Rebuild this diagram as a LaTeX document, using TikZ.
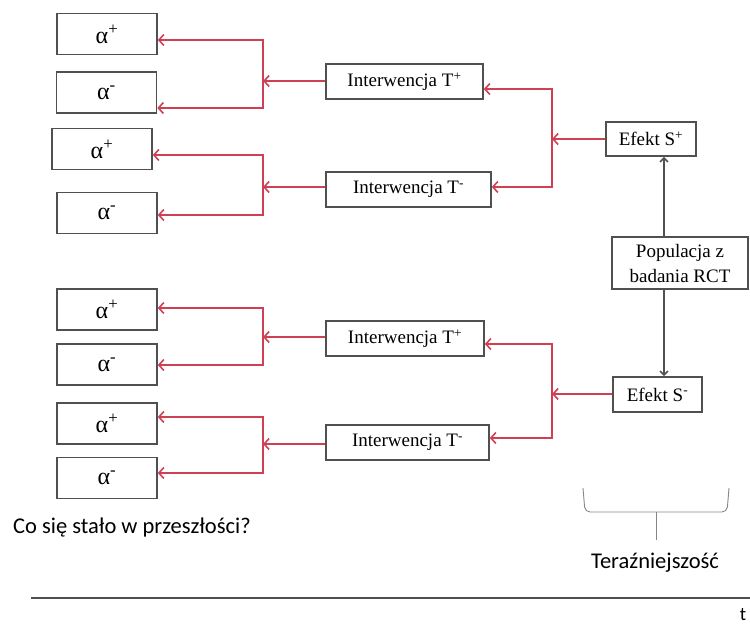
\documentclass[tikz,border=0pt]{standalone}
\usepackage{fontspec}
\setmainfont{Liberation Serif}
\newfontfamily\calibrifont{Carlito}
\usetikzlibrary{arrows.meta}
\definecolor{rline}{RGB}{208,64,84}
\definecolor{gline}{RGB}{80,80,80}

\begin{document}
\begin{tikzpicture}[x=1pt,y=-1pt]
    \tikzstyle{every node}+=[inner sep=0pt, font=\fontsize{19}{25}\selectfont]
    \tikzstyle{abox}=[draw=gline, line width=1.6pt, minimum width=100pt, minimum height=41pt, font=\fontsize{24}{26}\selectfont]
    \tikzstyle{ibox}=[draw=gline, line width=1.6pt, minimum height=35pt]
    \tikzstyle{rarr}=[rline, line width=1.6pt, arrows={Straight Barb[length=5pt,width=11pt]-Straight Barb[length=5pt,width=11pt]}]
    \tikzstyle{rone}=[rline, line width=1.6pt, -{Straight Barb[length=5pt,width=11pt]}]
    \tikzstyle{garr}=[gline, line width=1.6pt, -{Straight Barb[length=4pt,width=8pt]}]
    \useasboundingbox (0,0) rectangle (750,624);
    \node [abox] (a1) at (107,34) {α\textsuperscript{+}};
    \node [abox] (a2) at (106.5,92.5) {α\textsuperscript{-}};
    \node [abox] (a3) at (102,149) {α\textsuperscript{+}};
    \node [abox] (a4) at (107,213) {α\textsuperscript{-}};
    \node [abox] (a5) at (107,309.5) {α\textsuperscript{+}};
    \node [abox] (a6) at (107,364.5) {α\textsuperscript{-}};
    \node [abox] (a7) at (107,423.5) {α\textsuperscript{+}};
    \node [abox] (a8) at (107,478) {α\textsuperscript{-}};
    \node [ibox, minimum width=157pt] (i1) at (404.5,81.5) {Interwencja T\textsuperscript{+}};
    \node [ibox, minimum width=165pt] (i2) at (408.5,189.5) {Interwencja T\textsuperscript{-}};
    \node [ibox, minimum width=158pt] (i3) at (405,338.5) {Interwencja T\textsuperscript{+}};
    \node [ibox, minimum width=163pt] (i4) at (407.5,442.5) {Interwencja T\textsuperscript{-}};
    \node [ibox, minimum width=90pt, minimum height=34pt] (es1) at (651,139) {Efekt S\textsuperscript{+}};
    \node [ibox, minimum width=89pt] (es2) at (657.5,394.5) {Efekt S\textsuperscript{-}};
    \node [ibox, minimum width=136pt, minimum height=52pt, align=center] (pop) at (680,263) {Populacja z\\badania RCT};
    \coordinate (b1t) at (263,40);  \coordinate (b1b) at (263,108);
    \coordinate (b2t) at (263,155); \coordinate (b2b) at (263,215);
    \coordinate (b3t) at (263,308); \coordinate (b3b) at (263,365);
    \coordinate (b4t) at (263,417); \coordinate (b4b) at (263,473);
    \coordinate (r1t) at (552,89);  \coordinate (r1b) at (552,187);
    \coordinate (r2t) at (552,344); \coordinate (r2b) at (552,438);
    \draw [rarr] (a1.east |- b1t) -- (b1t) -- (b1b) -- (a2.east |- b1b);
    \draw [rarr] (a3.east |- b2t) -- (b2t) -- (b2b) -- (a4.east |- b2b);
    \draw [rarr] (a5.east |- b3t) -- (b3t) -- (b3b) -- (a6.east |- b3b);
    \draw [rarr] (a7.east |- b4t) -- (b4t) -- (b4b) -- (a8.east |- b4b);
    \draw [rone] ([yshift=0.5pt]i1.west) -- ([yshift=0.5pt]i1.west -| b1t);
    \draw [rone] ([yshift=2.5pt]i2.west) -- ([yshift=2.5pt]i2.west -| b2t);
    \draw [rone] ([yshift=1.5pt]i3.west) -- ([yshift=1.5pt]i3.west -| b3t);
    \draw [rone] ([yshift=-1.5pt]i4.west) -- ([yshift=-1.5pt]i4.west -| b4t);
    \draw [rarr] (i1.east |- r1t) -- (r1t) -- (r1b) -- (i2.east |- r1b);
    \draw [rarr] (i3.east |- r2t) -- (r2t) -- (r2b) -- (i4.east |- r2b);
    \draw [rone] (es1.west) -- (es1.west -| r1t);
    \draw [rone] ([yshift=0.5pt]es2.west) -- ([yshift=0.5pt]es2.west -| r2t);
    \draw [garr] ([xshift=-16pt]pop.north) -- ([xshift=-16pt]pop.north |- es1.south);
    \draw [garr] ([xshift=-16pt]pop.south) -- ([xshift=-16pt]pop.south |- es2.north);
    \draw [gline!70, line width=0.9pt, rounded corners=5pt] (583,488) -- (585,512) -- (727,512) -- (729,488);
    \draw [gline!70, line width=0.9pt] (656,512) -- (656,540);
    \node [font=\calibrifont\fontsize{22.5}{26}\selectfont, anchor=west] (qpast) at (13,527) {Co się stało w przeszłości?};
    \node [font=\calibrifont\fontsize{22.5}{26}\selectfont] (tnow) at (655,563) {Teraźniejszość};
    \coordinate (axl) at (31,598);
    \coordinate (axr) at (750,598);
    \draw [gline, line width=2pt] (axl) -- (axr);
    \node [font=\calibrifont\fontsize{19}{24}\selectfont, anchor=base] (tlab) at (743,620) {t};
\end{tikzpicture}
\end{document}
